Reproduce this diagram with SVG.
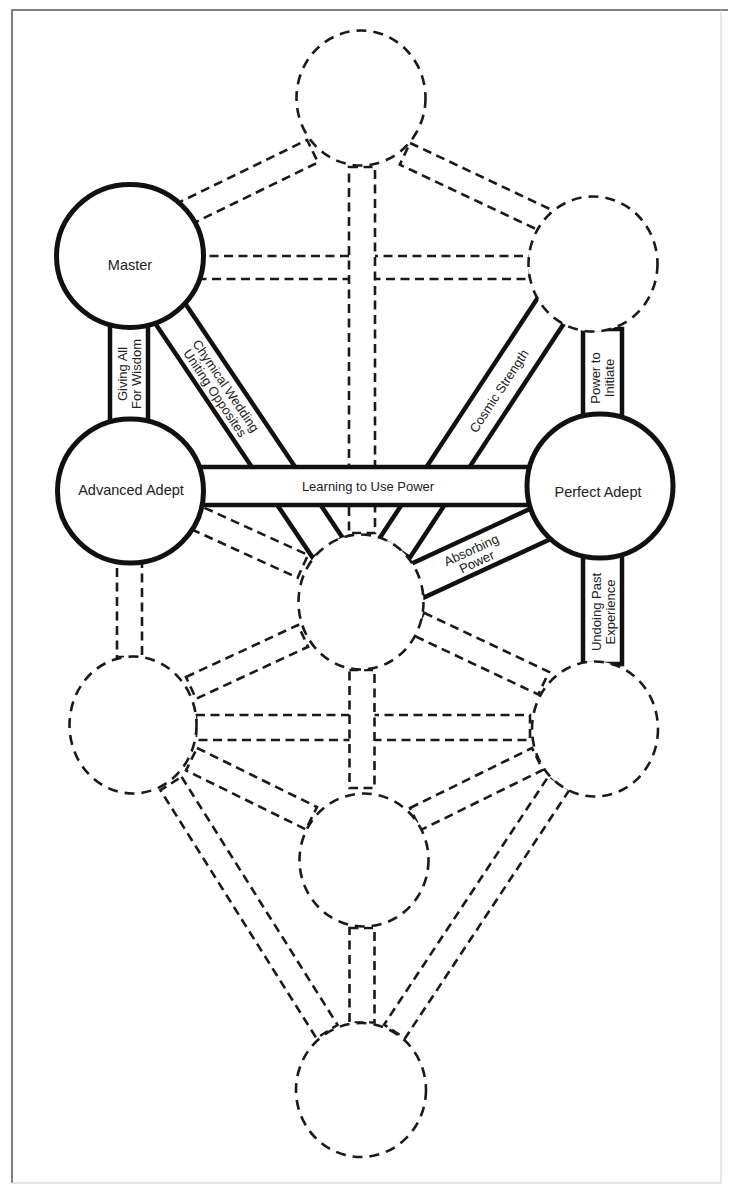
<svg xmlns="http://www.w3.org/2000/svg" width="730" height="1186" viewBox="0 0 730 1186">
<style>
.d{fill:#fff;stroke:#1a1a1a;stroke-width:2.6;stroke-dasharray:9 5.5}
.s{fill:#fff;stroke:#111;stroke-width:4.5}
.dc{fill:#fff;stroke:#1a1a1a;stroke-width:2.6;stroke-dasharray:10 7}
.sc{fill:#fff;stroke:#111;stroke-width:5}
.nl{font-family:"Liberation Sans",Arial,sans-serif;font-size:14.5px;fill:#222;text-anchor:middle}
.pl{font-family:"Liberation Sans",Arial,sans-serif;font-size:13px;fill:#222;text-anchor:middle}
</style>
<rect x="0" y="0" width="730" height="1186" fill="#fff"/>
<g id="frame" fill="none">
<path d="M12 1183 V10 H728" stroke="#555" stroke-width="1.5"/>
<path d="M12 1183 H721 V10" stroke="#ccc" stroke-width="1"/>
</g>
<g id="connectors">
<rect class="d" x="-10" y="-12.5" width="146.9" height="25" transform="translate(189.5 211.2) rotate(-26)"/>
<rect class="d" x="0" y="-12" width="157" height="24" transform="translate(404.9 153.8) rotate(25.3)"/>
<rect class="d" x="195" y="256" width="335" height="23"/>
<rect class="d" x="349" y="167" width="26" height="366"/>
<rect class="s" x="-15" y="-18" width="291" height="36" transform="translate(174 319) rotate(56.1)"/>
<rect class="s" x="-6" y="-18" width="288.5" height="36" transform="translate(398 543) rotate(-56.66)"/>
<rect class="s" x="583" y="329" width="39" height="96"/>
<rect class="s" x="110" y="312" width="38" height="120"/>
<rect class="s" x="190" y="467" width="350" height="38"/>
<rect class="s" x="-5" y="-18" width="150" height="36" transform="translate(420.5 579.3) rotate(-24.8)"/>
<rect class="s" x="583" y="545" width="39" height="119"/>
<rect class="d" x="-15" y="-12.5" width="128.2" height="25" transform="translate(199.8 519.4) rotate(24.5)"/>
<rect class="d" x="117" y="555" width="25" height="102"/>
<rect class="d" x="0" y="-12" width="123.5" height="24" transform="translate(191 687.9) rotate(-24.9)"/>
<rect class="d" x="0" y="-12.5" width="138.2" height="25" transform="translate(418.7 624.1) rotate(25.3)"/>
<rect class="d" x="196" y="715" width="334" height="25"/>
<rect class="d" x="349.5" y="670" width="25" height="118"/>
<rect class="d" x="0" y="-12.25" width="136" height="24.5" transform="translate(415.4 819) rotate(-26.2)"/>
<rect class="d" x="0" y="-12.5" width="133.7" height="25" transform="translate(191.5 759.2) rotate(26.2)"/>
<rect class="d" x="0" y="-12.5" width="293" height="25" transform="translate(171 783.5) rotate(57.83)"/>
<rect class="d" x="0" y="-12.5" width="298" height="25" transform="translate(559 783) rotate(123.5)"/>
<rect class="d" x="349.5" y="928" width="25" height="94.5"/>
</g>
<g id="n-kether"><ellipse class="dc" cx="361" cy="98" rx="64.5" ry="67.5"/></g>
<g id="n-chokmah"><ellipse class="dc" cx="593" cy="264" rx="64.5" ry="67.5"/></g>
<g id="n-master"><ellipse class="sc" cx="130" cy="256" rx="73.5" ry="71.5"/><text class="nl" x="130" y="270">Master</text></g>
<g id="n-perfect-adept"><ellipse class="sc" cx="600" cy="486" rx="73" ry="72"/><text class="nl" x="598" y="497">Perfect Adept</text></g>
<g id="n-advanced-adept"><ellipse class="sc" cx="130.5" cy="491" rx="73" ry="72"/><text class="nl" x="131" y="495">Advanced Adept</text></g>
<g id="n-tiphareth"><ellipse class="dc" cx="361" cy="602" rx="62.5" ry="67.5"/></g>
<g id="n-hod"><ellipse class="dc" cx="133" cy="725" rx="63.5" ry="68.5"/></g>
<g id="n-netzach"><ellipse class="dc" cx="595" cy="729" rx="63" ry="67.5"/></g>
<g id="n-yesod"><ellipse class="dc" cx="364" cy="860" rx="64.5" ry="66.5"/></g>
<g id="n-malkuth"><ellipse class="dc" cx="361" cy="1090" rx="65" ry="67"/></g>
<g id="labels">
<text class="pl" x="368" y="491">Learning to Use Power</text>
<text class="pl" transform="translate(129 374) rotate(-90)"><tspan x="0" y="-2.5">Giving All</tspan><tspan x="0" y="11.5">For Wisdom</tspan></text>
<text class="pl" transform="translate(602.5 378) rotate(-90)"><tspan x="0" y="-2.5">Power to</tspan><tspan x="0" y="11.5">Initiate</tspan></text>
<text class="pl" transform="translate(603.5 612) rotate(-90)"><tspan x="0" y="-2.5">Undoing Past</tspan><tspan x="0" y="11.5">Experience</tspan></text>
<text class="pl" transform="translate(220.5 389.5) rotate(56.1)"><tspan x="0" y="-2">Chymical Wedding</tspan><tspan x="0" y="11">Uniting Opposites</tspan></text>
<text class="pl" transform="translate(499 391) rotate(-56.7)" y="4.5">Cosmic Strength</text>
<text class="pl" transform="translate(474 556) rotate(-24.8)"><tspan x="0" y="-2">Absorbing</tspan><tspan x="0" y="11">Power</tspan></text>
</g>
</svg>
